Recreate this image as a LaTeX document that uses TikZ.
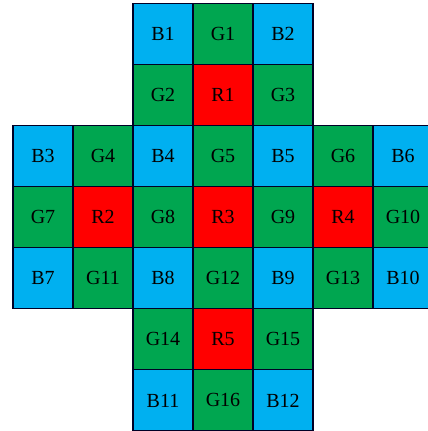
\documentclass[tikz,border=0pt]{standalone}
\usepackage{fontspec}
\setmainfont{Liberation Serif}
\definecolor{cblue}{RGB}{0,176,240}
\definecolor{cgreen}{RGB}{0,166,80}
\definecolor{cred}{RGB}{255,0,0}
\begin{document}
\begin{tikzpicture}[x=1pt,y=1pt,
  cell/.style={draw=black!85!blue,line width=1.1pt,minimum width=60pt,minimum height=61.1pt,inner sep=0pt,outer sep=0pt,font=\fontsize{20}{22}\selectfont,text=black},
  bcell/.style={cell,fill=cblue},
  gcell/.style={cell,fill=cgreen},
  rcell/.style={cell,fill=cred}]
\useasboundingbox (0,0) rectangle (428,431);
\fill[white] (0,0) rectangle (428,431);
% row 0
\node[bcell] (B1)  at (163,397.15) {B1};
\node[gcell] (G1)  at (223,397.15) {G1};
\node[bcell] (B2)  at (283,397.15) {B2};
% row 1
\node[gcell] (G2)  at (163,336.05) {G2};
\node[rcell] (R1)  at (223,336.05) {R1};
\node[gcell] (G3)  at (283,336.05) {G3};
% row 2
\node[bcell] (B3)  at (43,274.95) {B3};
\node[gcell] (G4)  at (103,274.95) {G4};
\node[bcell] (B4)  at (163,274.95) {B4};
\node[gcell] (G5)  at (223,274.95) {G5};
\node[bcell] (B5)  at (283,274.95) {B5};
\node[gcell] (G6)  at (343,274.95) {G6};
\node[bcell] (B6)  at (403,274.95) {B6};
% row 3
\node[gcell] (G7)  at (43,213.85) {G7};
\node[rcell] (R2)  at (103,213.85) {R2};
\node[gcell] (G8)  at (163,213.85) {G8};
\node[rcell] (R3)  at (223,213.85) {R3};
\node[gcell] (G9)  at (283,213.85) {G9};
\node[rcell] (R4)  at (343,213.85) {R4};
\node[gcell] (G10) at (403,213.85) {G10};
% row 4
\node[bcell] (B7)  at (43,152.75) {B7};
\node[gcell] (G11) at (103,152.75) {G11};
\node[bcell] (B8)  at (163,152.75) {B8};
\node[gcell] (G12) at (223,152.75) {G12};
\node[bcell] (B9)  at (283,152.75) {B9};
\node[gcell] (G13) at (343,152.75) {G13};
\node[bcell] (B10) at (403,152.75) {B10};
% row 5
\node[gcell] (G14) at (163,91.65) {G14};
\node[rcell] (R5)  at (223,91.65) {R5};
\node[gcell] (G15) at (283,91.65) {G15};
% row 6
\node[bcell] (B11) at (163,30.55) {B11};
\node[gcell] (G16) at (223,30.55) {G16};
\node[bcell] (B12) at (283,30.55) {B12};
\end{tikzpicture}
\end{document}
